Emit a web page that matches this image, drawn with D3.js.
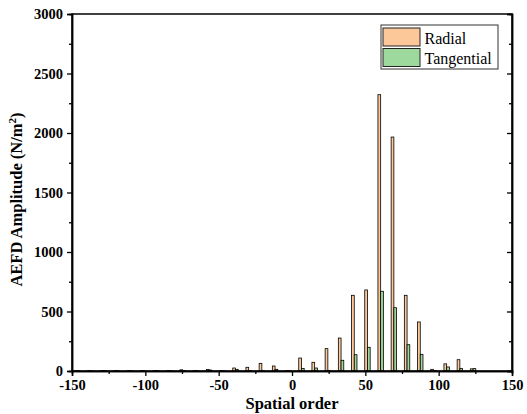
<!DOCTYPE html>
<html><head><meta charset="utf-8">
<script src="https://cdn.jsdelivr.net/npm/d3@7"></script>
<style>body{margin:0;background:#fff}svg{display:block}</style>
</head><body>
<script>
const orders = [-148,-139,-130,-121,-112,-103,-94,-85,-76,-67,-58,-49,-40,-31,-22,-13,-4,5,14,23,32,41,50,59,68,77,86,95,104,113,122];
const radial = [2,2,3,3,3,3,3,3,10,3,12,3,25,31,64,42,3,109,73,188,277,636,681,2322,1966,636,412,14,60,95,18];
const tangential = [1,1,2,2,2,2,2,2,5,2,8,2,14,3,3,14,2,22,25,3,90,137,199,670,532,221,140,5,34,22,20];
const xTicks = [-150,-100,-50,0,50,100,150];
const yTicks = [0,500,1000,1500,2000,2500,3000];
const seriesNames = ["Radial","Tangential"];
const colors = ["#fcc89a","#9dd89d"];

const W=527,H=414;
const m={l:72,r:15,t:14,b:43};
const svg=d3.select("body").append("svg").attr("width",W).attr("height",H);
const x=d3.scaleLinear().domain([-150,150]).range([m.l,W-m.r]);
const y=d3.scaleLinear().domain([0,3000]).range([H-m.b,m.t]);
const bw=1.85;

const g=svg.append("g");
orders.forEach((o,i)=>{
  [[radial[i],o-0.4,0],[tangential[i],o+1.45,1]].forEach(([v,x0,s])=>{
    g.append("rect").attr("x",x(x0)).attr("width",x(x0+bw)-x(x0))
     .attr("y",y(v)).attr("height",y(0)-y(v))
     .attr("fill",colors[s]).attr("stroke","#000").attr("stroke-width",0.8);
  });
});

const font="'Liberation Serif','Times New Roman',serif";
svg.append("rect").attr("x",x(-150)).attr("y",y(3000)).attr("width",x(150)-x(-150)).attr("height",y(0)-y(3000))
  .attr("fill","none").attr("stroke","#000").attr("stroke-width",1.5);

const fmt=d=>String(d);
svg.append("g").attr("transform",`translate(0,${y(0)})`)
  .call(d3.axisBottom(x).tickValues(xTicks).tickSize(5).tickPadding(4).tickFormat(fmt));
svg.append("g").attr("transform",`translate(0,${y(0)})`)
  .call(d3.axisBottom(x).tickValues(d3.range(-125,150,50)).tickSize(3).tickFormat(""));
svg.append("g").attr("transform",`translate(${x(-150)},0)`)
  .call(d3.axisLeft(y).tickValues(yTicks).tickSize(5).tickPadding(4).tickFormat(fmt));
svg.append("g").attr("transform",`translate(${x(-150)},0)`)
  .call(d3.axisLeft(y).tickValues(d3.range(250,3000,500)).tickSize(3).tickFormat(""));
svg.append("g").attr("transform",`translate(${x(150)},0)`)
  .call(d3.axisRight(y).tickValues(yTicks).tickSize(-5).tickFormat(""));
svg.append("g").attr("transform",`translate(${x(150)},0)`)
  .call(d3.axisRight(y).tickValues(d3.range(250,3000,500)).tickSize(-3).tickFormat(""));

svg.selectAll(".domain").attr("stroke","#000").attr("stroke-width",1.5);
svg.selectAll(".tick line").attr("stroke","#000").attr("stroke-width",1.3);
svg.selectAll(".tick text").attr("font-family",font).attr("font-weight","bold").attr("font-size","14.5px").attr("fill","#000");

svg.append("text").attr("x",x(0)).attr("y",409).attr("text-anchor","middle")
  .attr("font-family",font).attr("font-weight","bold").attr("font-size","16.5px").text("Spatial order");
const yt=svg.append("text").attr("transform",`translate(22,${(y(0)+y(3000))/2+7}) rotate(-90)`)
  .attr("text-anchor","middle").attr("font-family",font).attr("font-weight","bold").attr("font-size","16.5px");
yt.append("tspan").text("AEFD Amplitude (N/m");
yt.append("tspan").attr("baseline-shift","super").attr("font-size","11px").text("2");
yt.append("tspan").text(")");

const lg=svg.append("g");
lg.append("rect").attr("x",381).attr("y",25).attr("width",117).attr("height",44)
  .attr("fill","#fff").attr("stroke","#333").attr("stroke-width",1);
seriesNames.forEach((n,i)=>{
  lg.append("rect").attr("x",383).attr("y",28+i*20.5).attr("width",37).attr("height",18)
    .attr("fill",colors[i]).attr("stroke","#222").attr("stroke-width",1);
  lg.append("text").attr("x",424.5).attr("y",43.5+i*20.5).attr("font-family",font)
    .attr("font-size","16px").attr("fill","#000").text(n);
});
</script>
</body></html>
